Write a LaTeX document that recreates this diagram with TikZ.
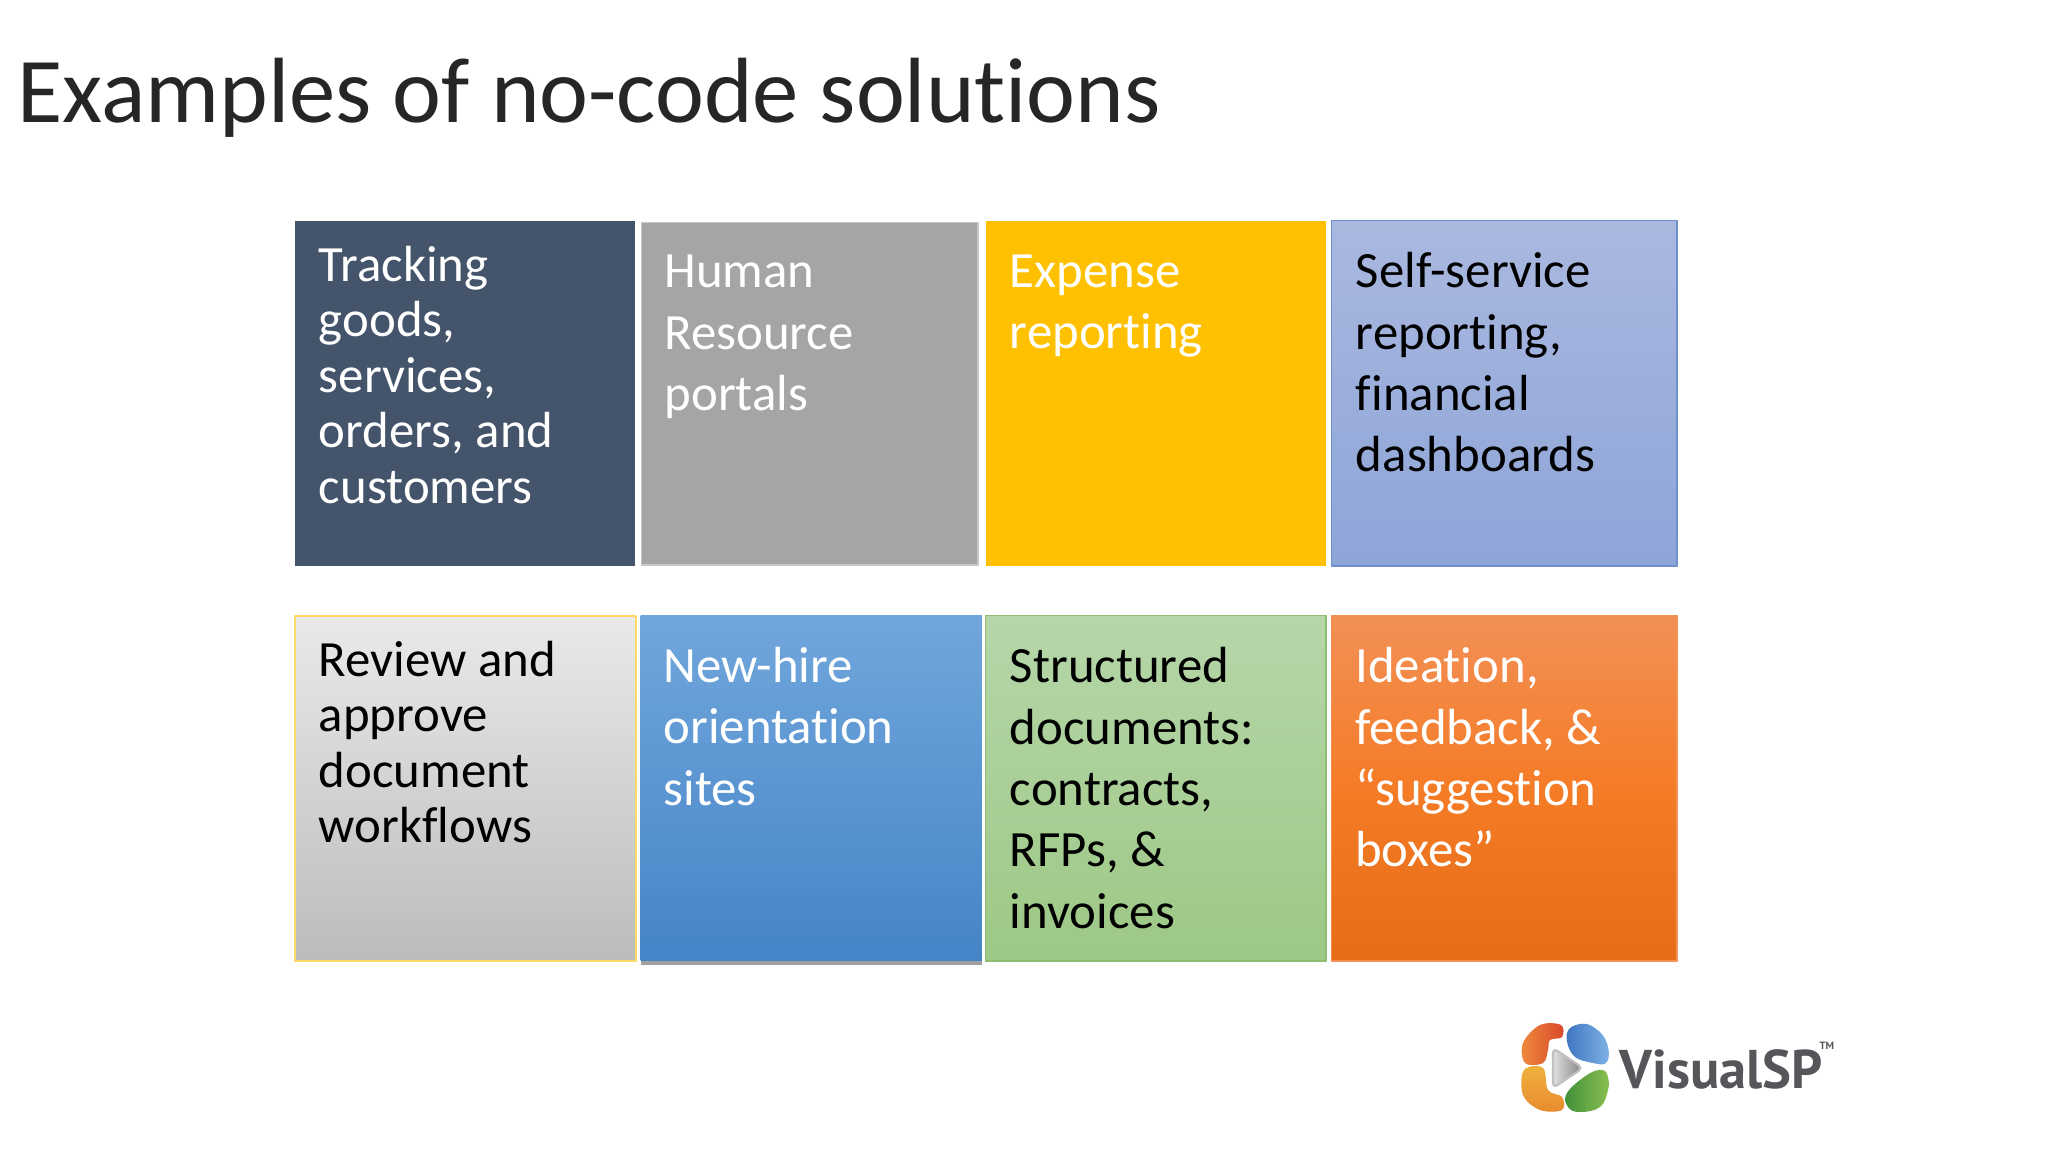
\documentclass[tikz,border=0pt]{standalone}
\usepackage{fontspec}
\setmainfont{Carlito}[Ligatures={NoCommon}]
\newfontfamily\logofont{PT Sans}
\usetikzlibrary{positioning,shadows}
\definecolor{slate}{HTML}{44546A}
\definecolor{midgray}{HTML}{A5A5A5}
\definecolor{amber}{HTML}{FFC000}
\definecolor{periTop}{HTML}{A9B8DF}
\definecolor{periEnd}{HTML}{8EA5D8}
\definecolor{periLine}{HTML}{6F8FCC}
\definecolor{skyTop}{HTML}{71A6DC}
\definecolor{skyEnd}{HTML}{4485C7}
\definecolor{leafTop}{HTML}{B6D6A9}
\definecolor{leafEnd}{HTML}{9DC885}
\definecolor{leafLine}{HTML}{8CBD70}
\definecolor{rustTop}{HTML}{F29056}
\definecolor{rustMid}{HTML}{F57C27}
\definecolor{rustEnd}{HTML}{E66C15}
\definecolor{paleTop}{HTML}{E9E9E9}
\definecolor{paleEnd}{HTML}{BCBCBC}
\definecolor{paleLine}{HTML}{FFD966}
\definecolor{logoInk}{HTML}{55565A}
\tikzset{
	tile/.style={inner sep=0pt, minimum width=#1cm, minimum height=3.45cm, anchor=north west},
	label tight/.style={inner sep=0pt, anchor=north west, align=left, font=\fontsize{14.45}{15.8}\selectfont},
	label loose/.style={inner sep=0pt, anchor=north west, align=left, font=\fontsize{14.45}{17.45}\selectfont},
}
\begin{document}
\begin{tikzpicture}[x=0.01cm, y=-0.01cm, line join=round, line cap=round]
	\useasboundingbox (0,0) rectangle (2048,1152);
	\node[inner sep=0pt, anchor=base west, text=black!85, font=\fontsize{26.35}{30}\selectfont] (heading) at (17,123) {Examples of no-code solutions};
	% first row
	\node[tile=3.40, fill=slate] (goods) at (294,220) {};
	\node[tile=3.36, minimum height=3.42cm, fill=midgray, draw=black!22, line width=.4pt] (human) at (641,222) {};
	\node[tile=3.40, fill=amber] (expense) at (985,220) {};
	\node[tile=3.45, top color=periTop, bottom color=periEnd, draw=periLine, line width=.4pt] (report) at (1331,220) {};
	% second row
	\node[tile=3.41, top color=paleTop, bottom color=paleEnd, draw=paleLine, line width=.5pt] (review) at (294,615) {};
	\node[tile=3.41, top color=skyTop, bottom color=skyEnd, drop shadow={shadow xshift=0pt, shadow yshift=-1.3pt, opacity=.75}] (newhire) at (640,615) {};
	\node[tile=3.40, top color=leafTop, bottom color=leafEnd, draw=leafLine, line width=.4pt] (struct) at (985,615) {};
	\node[tile=3.45, top color=rustTop, bottom color=rustEnd, middle color=rustMid, draw=rustTop, line width=.4pt] (ideas) at (1331,615) {};
	% labels of the tiles
	\node[label tight, text=white, below right=7.2pt and 6.9pt of goods.north west] (goodstext) {Tracking\\goods,\\services,\\orders, and\\customers};
	\node[label loose, text=white, below right=9.2pt and 6.5pt of human.north west] (humantext) {Human\\Resource\\portals};
	\node[label loose, text=white, below right=9.7pt and 6.9pt of expense.north west] (expensetext) {Expense\\reporting};
	\node[label loose, text=black, below right=9pt and 6.9pt of report.north west] (reporttext) {Self-service\\reporting,\\financial\\dashboards};
	\node[label tight, text=black, below right=7.2pt and 6.9pt of review.north west] (reviewtext) {Review and\\approve\\document\\workflows};
	\node[label loose, text=white, below right=8.95pt and 6.5pt of newhire.north west] (newhiretext) {New-hire\\orientation\\sites};
	\node[label loose, text=black, below right=9pt and 6.9pt of struct.north west] (structtext) {Structured\\documents:\\contracts,\\RFPs, \&\\invoices};
	\node[label loose, text=white, below right=9pt and 6.7pt of ideas.north west] (ideastext) {Ideation,\\feedback, \&\\“suggestion\\boxes”};
	% logo
	\definecolor{petalA}{HTML}{EE8A3C}\definecolor{petalB}{HTML}{D9472B}
	\definecolor{petalC}{HTML}{EFB23E}\definecolor{petalD}{HTML}{E88A2E}
	\definecolor{petalE}{HTML}{3F75C0}\definecolor{petalF}{HTML}{7FB2E5}
	\definecolor{petalG}{HTML}{3F8F3A}\definecolor{petalH}{HTML}{8ABF50}
	\shade[left color=petalA, right color=petalB] plot[smooth cycle, tension=.6] coordinates {(1561,1025) (1540,1025) (1523,1043) (1525,1063) (1543,1063) (1548,1050) (1550,1040) (1562,1037)};
	\shade[top color=petalC, bottom color=petalD] plot[smooth cycle, tension=.6] coordinates {(1524,1070) (1543,1068) (1548,1090) (1562,1097) (1562,1110) (1540,1110) (1523,1095)};
	\shade[left color=petalE, right color=petalF] plot[smooth cycle, tension=.7] coordinates {(1567,1033) (1580,1024) (1595,1028) (1607,1043) (1607,1062) (1593,1063) (1573,1055)};
	\shade[left color=petalG, right color=petalH] plot[smooth cycle, tension=.7] coordinates {(1568,1107) (1567,1093) (1587,1075) (1602,1070) (1608,1077) (1608,1090) (1600,1107) (1580,1112)};
	\coordinate (tipA) at (1553,1048);
	\coordinate (tipB) at (1583,1068);
	\coordinate (tipC) at (1553,1088);
	\draw[black!25, line width=.6pt, left color=black!12, right color=black!50, rounded corners=1.5pt] (tipA)--(tipB)--(tipC)--cycle;
	\node[inner sep=0pt, anchor=base west, text=logoInk, font=\logofont\bfseries\fontsize{15.5}{18}\selectfont] (brand) at (1619,1088) {VisualSP};
	\node[inner sep=0pt, anchor=base west, text=logoInk, font=\logofont\bfseries\fontsize{3}{3}\selectfont] (trade) at (1819,1049) {TM};
\end{tikzpicture}
\end{document}
